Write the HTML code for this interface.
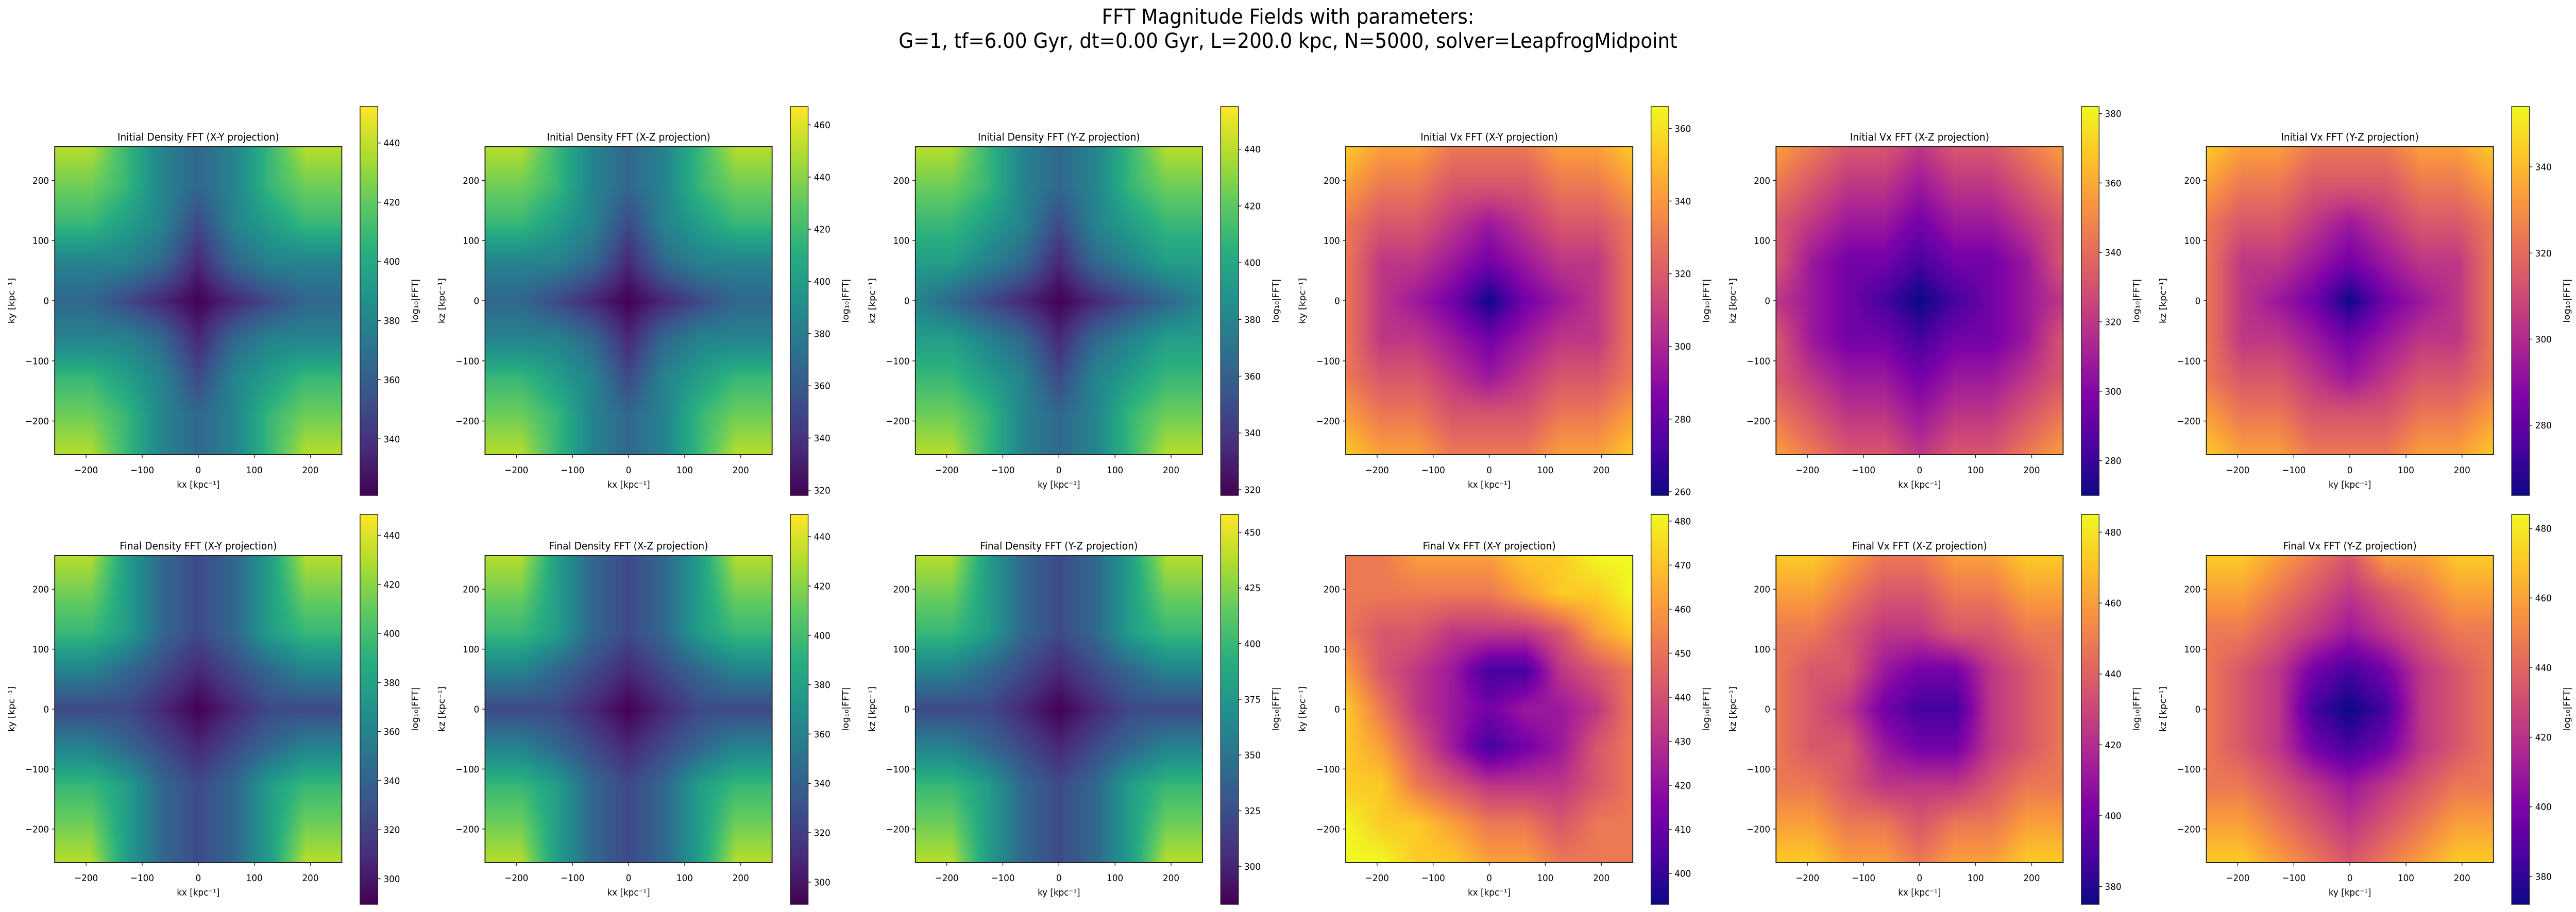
<!DOCTYPE html>
<html><head><meta charset="utf-8">
<meta name="viewport" content="width=5366">
<style>
html,body{margin:0;padding:0;background:#fff;width:100%;height:100%;overflow:hidden;}
#wrap{position:absolute;left:0;top:0;width:5366px;height:1771px;overflow:hidden;background:#fff;font-family:"DejaVu Sans","Liberation Sans",sans-serif;transform-origin:0 0;}
canvas{position:absolute;display:block;}
svg{position:absolute;left:0;top:0;display:block;overflow:hidden;}
</style></head>
<body>
<div id="wrap">
<svg id="svg" width="5366" height="1771">
<text x="2683" y="46" font-size="40" text-anchor="middle" font-family="DejaVu Sans, Liberation Sans, sans-serif">FFT Magnitude Fields with parameters:</text>
<text x="2683" y="93" font-size="40" text-anchor="middle" font-family="DejaVu Sans, Liberation Sans, sans-serif">G=1, tf=6.00 Gyr, dt=0.00 Gyr, L=200.0 kpc, N=5000, solver=LeapfrogMidpoint</text>
</svg>
</div>
<script>
// ---- data ----
const titles = ["Initial Density FFT (X-Y projection)","Initial Density FFT (X-Z projection)","Initial Density FFT (Y-Z projection)","Initial Vx FFT (X-Y projection)","Initial Vx FFT (X-Z projection)","Initial Vx FFT (Y-Z projection)","Final Density FFT (X-Y projection)","Final Density FFT (X-Z projection)","Final Density FFT (Y-Z projection)","Final Vx FFT (X-Y projection)","Final Vx FFT (X-Z projection)","Final Vx FFT (Y-Z projection)"];
const xLabels = ["kx","kx","ky","kx","kx","ky","kx","kx","ky","kx","kx","ky"];
const yLabels = ["ky","kz","kz","ky","kz","kz","ky","kz","kz","ky","kz","kz"];
const cmaps = ["viridis","viridis","viridis","plasma","plasma","plasma","viridis","viridis","viridis","plasma","plasma","plasma"];
const axisTicks = [-200,-100,0,100,200];
const axisRange = [-256,256];
const cbRanges = [[320.9,452.3],[318,467],[318,455],[259,366],[270,382],[263.7,354],[289.6,448.5],[291,449],[283,458],[393,481.5],[375,485],[372,484]];
const cbTicks = [[340,360,380,400,420,440],[320,340,360,380,400,420,440,460],[320,340,360,380,400,420,440],[260,280,300,320,340,360],[280,300,320,340,360,380],[280,300,320,340],[300,320,340,360,380,400,420,440],[300,320,340,360,380,400,420,440],[300,325,350,375,400,425,450],[400,410,420,430,440,450,460,470,480],[380,400,420,440,460,480],[380,400,420,440,460,480]];
// grid fractions (0..9), 9x9 over k = -256..256, top row = +256
const grid0 = ["886434688","776434677","665424566","444313444","332101233","444313444","665424566","776434677","886434688"];
const grid1 = ["886434688","776434677","665424566","444313444","332101233","444313444","665424566","776434677","886434688"];
const grid2 = ["886434688","776434677","665424566","554313455","432101234","554313455","665424566","776434677","886434688"];
const grid3 = ["877666778","766555667","655434556","644323446","643202346","644323446","655434556","766555667","877666778"];
const grid4 = ["765545567","654434456","543323345","532212235","432101234","532212235","543323345","654434456","765545567"];
const grid5 = ["877666778","766555667","655434556","644323446","643202346","644323446","655434556","766555667","877666778"];
const grid6 = ["885323588","775323577","665323566","443212344","222101222","443212344","665323566","775323577","885323588"];
const grid7 = ["885323588","775323577","665323566","443212344","222101222","443212344","665323566","775323577","885323588"];
const grid8 = ["885323588","775323577","665323566","443212344","222101222","443212344","665323566","775323577","885323588"];
const grid9 = ["667778899","666667889","655444578","754311456","864323346","875312356","886544456","988766566","998877666"];
const grid10 = ["887667788","776556677","665445566","655322456","654211456","655322456","665444566","776656677","887767788"];
const grid11 = ["887657788","776545677","665434566","654212456","654101456","654212456","665434566","776545677","887656788"];
const grids = [grid0,grid1,grid2,grid3,grid4,grid5,grid6,grid7,grid8,grid9,grid10,grid11];

// ---- colormaps ----
const CM = {
 viridis:["#440154","#472d7b","#3b528b","#2c728e","#21918c","#28ae80","#5ec962","#addc30","#fde725"],
 plasma:["#0d0887","#4c02a1","#7e03a8","#a92395","#cc4778","#e56b5d","#f89540","#fdc527","#f0f921"]
};
function hex(h){return [parseInt(h.substr(1,2),16),parseInt(h.substr(3,2),16),parseInt(h.substr(5,2),16)];}
const CMrgb = {viridis:CM.viridis.map(hex), plasma:CM.plasma.map(hex)};
function cmap(name,t){t=Math.max(0,Math.min(1,t));const a=CMrgb[name];const f=t*(a.length-1);const i=Math.min(a.length-2,Math.floor(f));const u=f-i;return [0,1,2].map(k=>a[i][k]+(a[i+1][k]-a[i][k])*u);}

const NS="http://www.w3.org/2000/svg";
const svg=document.getElementById('svg');
const wrap=document.getElementById('wrap');
function fit(){
  const sx=(window.innerWidth||5366)/5366, sy=(window.innerHeight||1771)/1771;
  wrap.style.transform='scale('+sx+','+sy+')';
}
fit();
window.addEventListener('resize',fit);
function el(tag,attrs,parent){const e=document.createElementNS(NS,tag);for(const k in attrs)e.setAttribute(k,attrs[k]);(parent||svg).appendChild(e);return e;}
const defs=el('defs',{});
for(const name of ["viridis","plasma"]){
  const g=el('linearGradient',{id:'grad-'+name,x1:0,y1:1,x2:0,y2:0},defs);
  CM[name].forEach((c,i)=>el('stop',{offset:(i/(CM[name].length-1)),'stop-color':c},g));
}
const FONT="DejaVu Sans, Liberation Sans, sans-serif";
for(let p=0;p<12;p++){
  const col=p%6,row=Math.floor(p/6);
  const L=114+896.4*col, W=598;
  const T=row===0?285:1079, H=row===0?598:596;
  const cbT=row===0?207:999, cbB=row===0?962:1756;
  const cbL=L+636, cbW=37;
  const xs=v=>L+(v-axisRange[0])/(axisRange[1]-axisRange[0])*W;
  const ys=v=>T+H-(v-axisRange[0])/(axisRange[1]-axisRange[0])*H;
  const cv=document.createElement('canvas');
  
  
  cv.width=W;cv.height=H;cv.style.left=L+'px';cv.style.top=T+'px';cv.style.width=W+'px';cv.style.height=H+'px';
  wrap.insertBefore(cv,svg);
  const ctx=cv.getContext('2d');const img=ctx.createImageData(W,H);
  const g=grids[p].map(r=>r.split('').map(Number));
  const n=g.length-1;
  for(let y=0;y<H;y++){const gy=y/(H-1)*n;const iy=Math.min(n-1,Math.floor(gy));const vy=gy-iy;
    for(let x=0;x<W;x++){const gx=x/(W-1)*n;const ix=Math.min(n-1,Math.floor(gx));const vx=gx-ix;
      const v=(g[iy][ix]*(1-vx)+g[iy][ix+1]*vx)*(1-vy)+(g[iy+1][ix]*(1-vx)+g[iy+1][ix+1]*vx)*vy;
      const c=cmap(cmaps[p],v/9);const o=(y*W+x)*4;img.data[o]=c[0];img.data[o+1]=c[1];img.data[o+2]=c[2];img.data[o+3]=255;}}
  ctx.putImageData(img,0,0);
  const fr=el('rect',{x:L,y:T,width:W,height:H,fill:'none',stroke:'#222',"stroke-width":2});
  
  
  const tt=el('text',{x:L+W/2,y:T-12,'font-size':20,'text-anchor':'middle','font-family':FONT});
  tt.textContent=titles[p];
  
  
  axisTicks.forEach(v=>{
    const X=xs(v);
    const tk=el('line',{x1:X,x2:X,y1:T+H,y2:T+H+6,stroke:'#222','stroke-width':1.5});
    
    
    const tl=el('text',{x:X,y:T+H+36,'font-size':18,'text-anchor':'middle','font-family':FONT});
    tl.textContent=(v<0?'\u2212'+(-v):''+v);
    
    
    const Y=ys(v);
    const yk=el('line',{x1:L-6,x2:L,y1:Y,y2:Y,stroke:'#222','stroke-width':1.5});
    
    
    const yl=el('text',{x:L-12,y:Y+6.5,'font-size':18,'text-anchor':'end','font-family':FONT});
    yl.textContent=(v<0?'\u2212'+(-v):''+v);
    
    
  });
  const xl=el('text',{x:L+W/2,y:T+H+64,'font-size':18,'text-anchor':'middle','font-family':FONT});
  xl.textContent=xLabels[p]+' [kpc\u207B\u00B9]';
  
  
  const yt=el('text',{x:0,y:0,'font-size':18,'text-anchor':'middle','font-family':FONT,transform:`translate(${L-84},${T+H/2}) rotate(-90)`});
  yt.textContent=yLabels[p]+' [kpc\u207B\u00B9]';
  
  
  const cb=el('rect',{x:cbL,y:cbT,width:cbW,height:cbB-cbT,fill:'url(#grad-'+cmaps[p]+')',stroke:'#222','stroke-width':1.5});
  
  
  const [lo,hi]=cbRanges[p];
  cbTicks[p].forEach(v=>{
    const Y=cbB-(v-lo)/(hi-lo)*(cbB-cbT);
    const tk=el('line',{x1:cbL+cbW,x2:cbL+cbW+6,y1:Y,y2:Y,stroke:'#222','stroke-width':1.5});
    
    
    const tl=el('text',{x:cbL+cbW+12,y:Y+6.5,'font-size':18,'font-family':FONT});
    tl.textContent=''+v;
    
    
  });
  const cl=el('text',{x:0,y:0,'font-size':18,'text-anchor':'middle','font-family':FONT,transform:`translate(${L+757},${T+H/2}) rotate(-90)`});
  cl.textContent='log\u2081\u2080|FFT|';
  
  
}
</script>
</body></html>
